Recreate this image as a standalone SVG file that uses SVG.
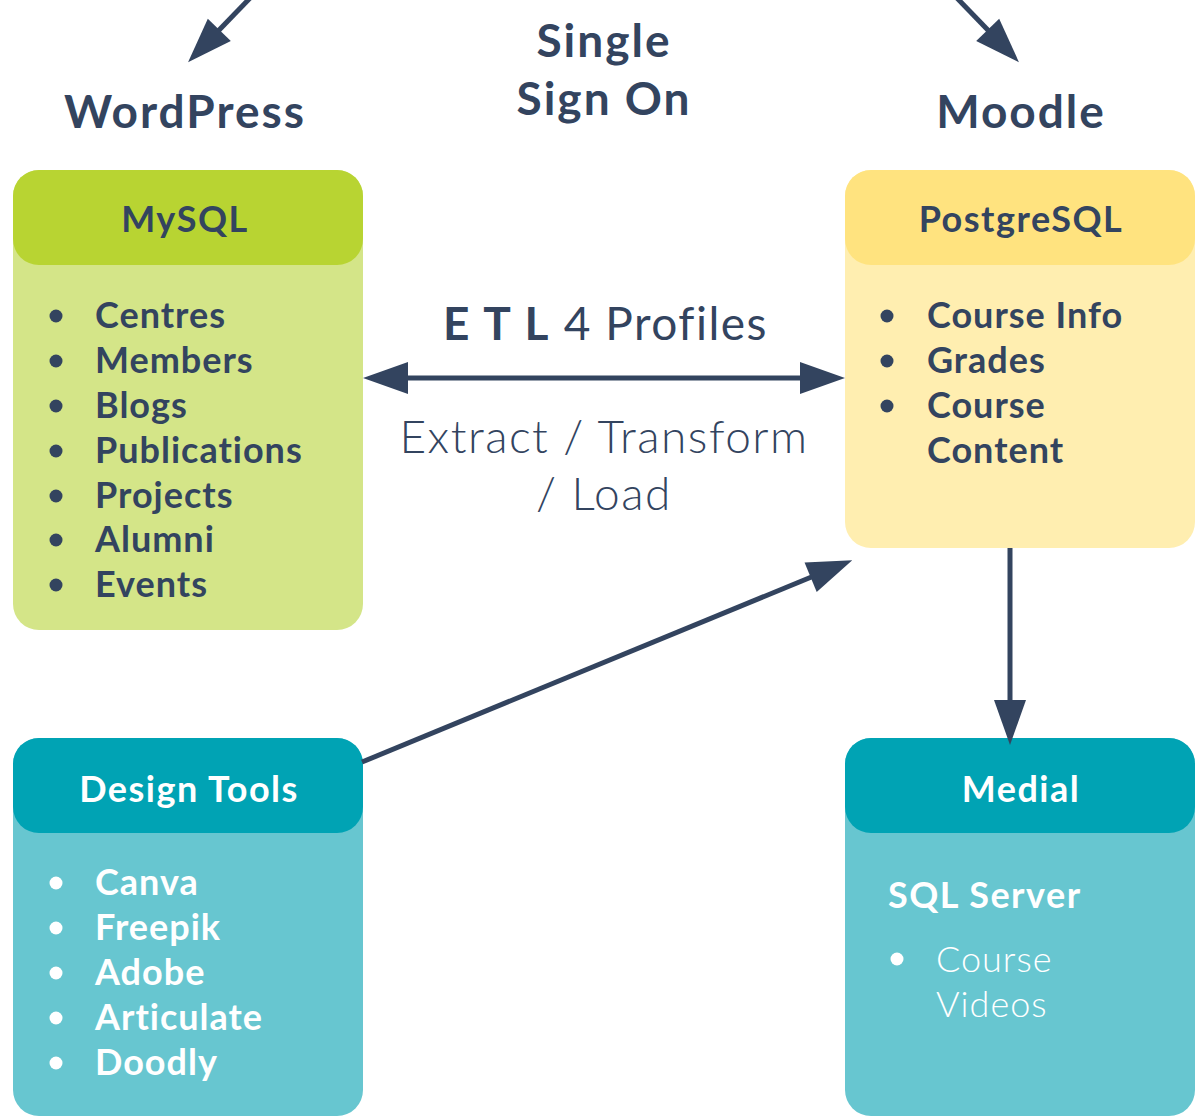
<svg xmlns="http://www.w3.org/2000/svg" width="1196" height="1120" viewBox="0 0 1196 1120">
<style>
text{font-family:Lato,"Noto Sans","Liberation Sans",sans-serif;fill:#33445f}
.title{font-size:46px;font-weight:700;text-anchor:middle;letter-spacing:2px}
.hdr{font-size:36px;font-weight:700;text-anchor:middle;letter-spacing:1.5px}
.item{font-size:36px;font-weight:700;letter-spacing:1px}
.w{fill:#ffffff}
.light{font-weight:300}
.big{font-size:46px;letter-spacing:1.5px}
.conn{stroke:#33445f;stroke-width:5;fill:none}
</style>
<defs>
<marker id="ah" viewBox="0 0 45 32" refX="35" refY="16" markerWidth="45" markerHeight="32" markerUnits="userSpaceOnUse" orient="auto-start-reverse" overflow="visible">
<path d="M0,0 L45,16 L0,32 Z" fill="#33445f"/>
</marker>
</defs>
<rect width="1196" height="1120" fill="#ffffff"/>

<g id="labels">
<text class="title" x="185" y="128">WordPress</text>
<text class="title" x="604" y="57">Single</text>
<text class="title" x="604" y="115">Sign On</text>
<text class="title" x="1021" y="128">Moodle</text>
</g>

<g id="mysql">
<rect x="13" y="170" width="350" height="460" rx="26" fill="#d4e588"/>
<rect x="13" y="170" width="350" height="95" rx="26" fill="#b8d432"/>
<text class="hdr" x="185" y="232">MySQL</text>
<circle cx="56" cy="316" r="6.5" fill="#33445f"/><text class="item" x="95" y="328">Centres</text>
<circle cx="56" cy="361" r="6.5" fill="#33445f"/><text class="item" x="95" y="373">Members</text>
<circle cx="56" cy="406" r="6.5" fill="#33445f"/><text class="item" x="95" y="418">Blogs</text>
<circle cx="56" cy="451" r="6.5" fill="#33445f"/><text class="item" x="95" y="463">Publications</text>
<circle cx="56" cy="496" r="6.5" fill="#33445f"/><text class="item" x="95" y="508">Projects</text>
<circle cx="56" cy="540" r="6.5" fill="#33445f"/><text class="item" x="95" y="552">Alumni</text>
<circle cx="56" cy="585" r="6.5" fill="#33445f"/><text class="item" x="95" y="597">Events</text>
</g>

<g id="postgresql">
<rect x="845" y="170" width="350" height="378" rx="26" fill="#ffeeb0"/>
<rect x="845" y="170" width="350" height="95" rx="26" fill="#ffe37f"/>
<text class="hdr" x="1021" y="232">PostgreSQL</text>
<circle cx="887" cy="316" r="6.5" fill="#33445f"/><text class="item" x="927" y="328">Course Info</text>
<circle cx="887" cy="361" r="6.5" fill="#33445f"/><text class="item" x="927" y="373">Grades</text>
<circle cx="887" cy="406" r="6.5" fill="#33445f"/><text class="item" x="927" y="418">Course</text>
<text class="item" x="927" y="463">Content</text>
</g>

<g id="designtools">
<rect x="13" y="738" width="350" height="378" rx="26" fill="#67c6d0"/>
<rect x="13" y="738" width="350" height="95" rx="26" fill="#00a3b4"/>
<text class="hdr w" x="189" y="802">Design Tools</text>
<circle cx="56" cy="883" r="6.5" fill="#ffffff"/><text class="item w" x="95" y="895">Canva</text>
<circle cx="56" cy="928" r="6.5" fill="#ffffff"/><text class="item w" x="95" y="940">Freepik</text>
<circle cx="56" cy="973" r="6.5" fill="#ffffff"/><text class="item w" x="95" y="985">Adobe</text>
<circle cx="56" cy="1018" r="6.5" fill="#ffffff"/><text class="item w" x="95" y="1030">Articulate</text>
<circle cx="56" cy="1063" r="6.5" fill="#ffffff"/><text class="item w" x="95" y="1075">Doodly</text>
</g>

<g id="medial">
<rect x="845" y="738" width="350" height="378" rx="26" fill="#67c6d0"/>
<rect x="845" y="738" width="350" height="95" rx="26" fill="#00a3b4"/>
<text class="hdr w" x="1021" y="802">Medial</text>
<text class="item w" x="888" y="908" style="letter-spacing:1.5px">SQL Server</text>
<circle cx="897" cy="959" r="6.5" fill="#ffffff"/>
<text class="item w light" x="936" y="972">Course</text>
<text class="item w light" x="936" y="1017">Videos</text>
</g>

<g id="etl-label">
<text x="443" y="340" class="big"><tspan font-weight="700" style="letter-spacing:2px">E T L</tspan><tspan font-weight="400"> 4 Profiles</tspan></text>
<text class="light big" x="604" y="453" text-anchor="middle">Extract / Transform</text>
<text class="light big" x="604" y="510" text-anchor="middle">/ Load</text>
</g>

<g id="connectors">
<line class="conn" x1="252" y1="-4" x2="195" y2="55" marker-end="url(#ah)"/>
<line class="conn" x1="955" y1="-4" x2="1012" y2="55" marker-end="url(#ah)"/>
<line class="conn" x1="373" y1="378" x2="835" y2="378" marker-start="url(#ah)" marker-end="url(#ah)"/>
<line class="conn" x1="362" y1="762" x2="843" y2="564" marker-end="url(#ah)"/>
<line class="conn" x1="1010" y1="548" x2="1010" y2="735" marker-end="url(#ah)"/>
</g>
</svg>
